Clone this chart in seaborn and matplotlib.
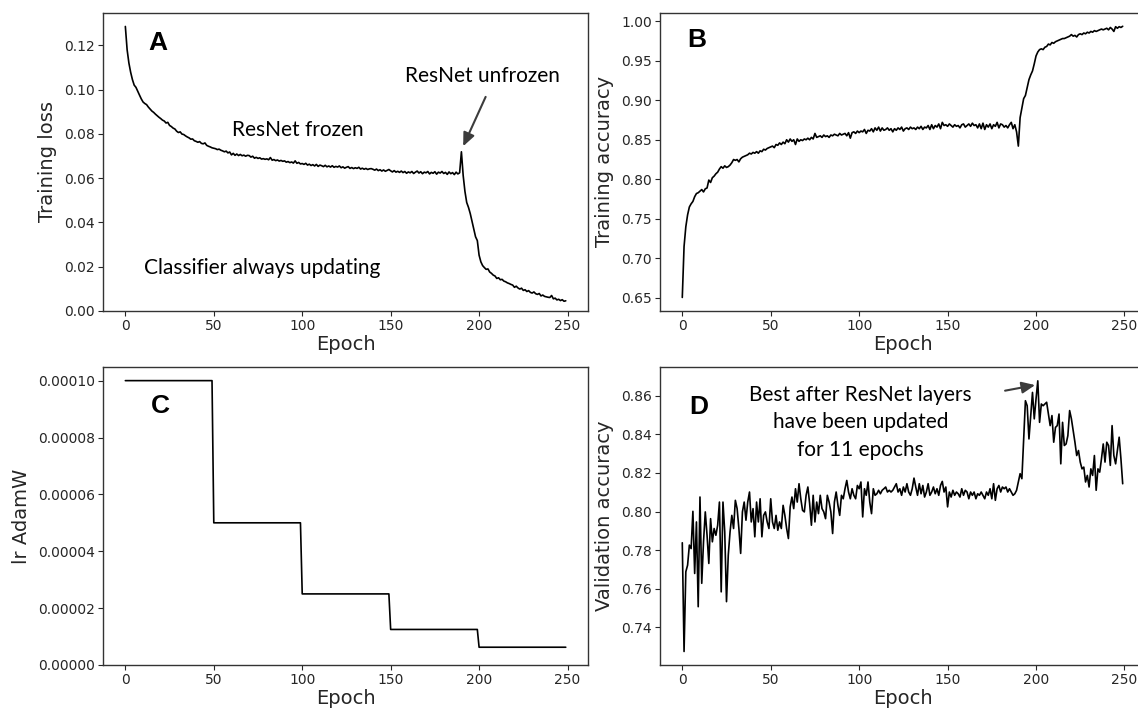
import numpy as np
import matplotlib
matplotlib.use("Agg")
import matplotlib.pyplot as plt
from matplotlib.ticker import FormatStrFormatter, MultipleLocator
import seaborn as sns

# epochs 0..249
epochs = list(range(250))

# training loss
train_loss = [
    0.1285, 0.1180, 0.1120, 0.1078, 0.1045, 0.1020, 0.1010, 0.0992, 0.0975, 0.0958,
    0.0944, 0.0937, 0.0932, 0.0921, 0.0912, 0.0903, 0.0897, 0.0889, 0.0882, 0.0875,
    0.0869, 0.0862, 0.0858, 0.0849, 0.0852, 0.0838, 0.0833, 0.0826, 0.0822, 0.0812,
    0.0806, 0.0809, 0.0799, 0.0797, 0.0791, 0.0786, 0.0782, 0.0776, 0.0777, 0.0769,
    0.0766, 0.0762, 0.0765, 0.0757, 0.0755, 0.0759, 0.0748, 0.0744, 0.0741, 0.0737,
    0.0735, 0.0733, 0.0729, 0.0731, 0.0726, 0.0723, 0.0719, 0.0722, 0.0714, 0.0718,
    0.0705, 0.0712, 0.0703, 0.0709, 0.0702, 0.0707, 0.0701, 0.0704, 0.0699, 0.0703,
    0.0702, 0.0695, 0.0699, 0.0690, 0.0694, 0.0689, 0.0692, 0.0686, 0.0688, 0.0685,
    0.0687, 0.0683, 0.0693, 0.0681, 0.0684, 0.0679, 0.0682, 0.0677, 0.0680, 0.0676,
    0.0678, 0.0672, 0.0675, 0.0670, 0.0673, 0.0668, 0.0678, 0.0667, 0.0671, 0.0664,
    0.0666, 0.0662, 0.0667, 0.0659, 0.0663, 0.0657, 0.0661, 0.0655, 0.0662, 0.0653,
    0.0659, 0.0656, 0.0652, 0.0658, 0.0651, 0.0655, 0.0650, 0.0656, 0.0649, 0.0653,
    0.0650, 0.0655, 0.0647, 0.0651, 0.0645, 0.0649, 0.0652, 0.0644, 0.0648, 0.0643,
    0.0647, 0.0644, 0.0649, 0.0641, 0.0645, 0.0640, 0.0644, 0.0639, 0.0642, 0.0643,
    0.0640, 0.0636, 0.0641, 0.0634, 0.0638, 0.0632, 0.0637, 0.0631, 0.0635, 0.0639,
    0.0633, 0.0628, 0.0634, 0.0627, 0.0631, 0.0626, 0.0632, 0.0625, 0.0630, 0.0622,
    0.0628, 0.0624, 0.0630, 0.0621, 0.0627, 0.0632, 0.0623, 0.0629, 0.0620, 0.0627,
    0.0624, 0.0630, 0.0619, 0.0626, 0.0622, 0.0629, 0.0618, 0.0627, 0.0623, 0.0630,
    0.0621, 0.0626, 0.0617, 0.0628, 0.0620, 0.0625, 0.0616, 0.0627, 0.0619, 0.0624,
    0.0719, 0.0612, 0.0540, 0.0490, 0.0468, 0.0440, 0.0405, 0.0370, 0.0335, 0.0318,
    0.0252, 0.0222, 0.0205, 0.0196, 0.0188, 0.0190, 0.0176, 0.0170, 0.0162, 0.0158,
    0.0147, 0.0150, 0.0141, 0.0143, 0.0135, 0.0132, 0.0127, 0.0124, 0.0120, 0.0117,
    0.0107, 0.0112, 0.0104, 0.0099, 0.0103, 0.0093, 0.0096, 0.0088, 0.0092, 0.0084,
    0.0081, 0.0086, 0.0078, 0.0075, 0.0079, 0.0068, 0.0072, 0.0066, 0.0064, 0.0062,
    0.0061, 0.0070, 0.0055, 0.0058, 0.0050, 0.0053, 0.0047, 0.0051, 0.0044, 0.0046,
]

# training accuracy, panel B
train_acc = [
    0.6506, 0.7150, 0.7400, 0.7550, 0.7650, 0.7690, 0.7720, 0.7780, 0.7820, 0.7830,
    0.7850, 0.7870, 0.7840, 0.7880, 0.7890, 0.7990, 0.7960, 0.8020, 0.8040, 0.8070,
    0.8090, 0.8130, 0.8160, 0.8140, 0.8170, 0.8150, 0.8160, 0.8180, 0.8210, 0.8250,
    0.8240, 0.8250, 0.8220, 0.8260, 0.8280, 0.8290, 0.8300, 0.8310, 0.8330, 0.8320,
    0.8340, 0.8330, 0.8350, 0.8330, 0.8360, 0.8350, 0.8380, 0.8370, 0.8390, 0.8400,
    0.8410, 0.8420, 0.8400, 0.8440, 0.8430, 0.8460, 0.8440, 0.8470, 0.8450, 0.8500,
    0.8470, 0.8510, 0.8480, 0.8500, 0.8440, 0.8510, 0.8480, 0.8500, 0.8490, 0.8510,
    0.8500, 0.8520, 0.8500, 0.8530, 0.8510, 0.8580, 0.8530, 0.8540, 0.8550, 0.8530,
    0.8560, 0.8540, 0.8550, 0.8530, 0.8560, 0.8550, 0.8570, 0.8560, 0.8550, 0.8580,
    0.8560, 0.8570, 0.8580, 0.8550, 0.8590, 0.8520, 0.8590, 0.8600, 0.8580, 0.8610,
    0.8590, 0.8610, 0.8600, 0.8630, 0.8580, 0.8620, 0.8610, 0.8640, 0.8600, 0.8650,
    0.8620, 0.8660, 0.8610, 0.8650, 0.8620, 0.8630, 0.8650, 0.8620, 0.8640, 0.8600,
    0.8640, 0.8620, 0.8650, 0.8630, 0.8660, 0.8610, 0.8640, 0.8650, 0.8630, 0.8660,
    0.8640, 0.8650, 0.8630, 0.8660, 0.8640, 0.8670, 0.8630, 0.8660, 0.8650, 0.8680,
    0.8630, 0.8690, 0.8640, 0.8680, 0.8660, 0.8700, 0.8640, 0.8720, 0.8680, 0.8690,
    0.8670, 0.8700, 0.8680, 0.8660, 0.8690, 0.8670, 0.8680, 0.8650, 0.8690, 0.8700,
    0.8660, 0.8680, 0.8700, 0.8670, 0.8710, 0.8680, 0.8690, 0.8650, 0.8700, 0.8640,
    0.8710, 0.8630, 0.8690, 0.8660, 0.8700, 0.8640, 0.8690, 0.8670, 0.8720, 0.8650,
    0.8700, 0.8690, 0.8660, 0.8680, 0.8650, 0.8690, 0.8720, 0.8640, 0.8690, 0.8600,
    0.8420, 0.8780, 0.8900, 0.9020, 0.9060, 0.9160, 0.9260, 0.9320, 0.9370, 0.9460,
    0.9560, 0.9610, 0.9640, 0.9650, 0.9640, 0.9670, 0.9680, 0.9710, 0.9700, 0.9730,
    0.9720, 0.9740, 0.9750, 0.9760, 0.9770, 0.9780, 0.9780, 0.9790, 0.9800, 0.9810,
    0.9830, 0.9810, 0.9820, 0.9800, 0.9830, 0.9840, 0.9830, 0.9850, 0.9840, 0.9860,
    0.9850, 0.9870, 0.9860, 0.9880, 0.9870, 0.9880, 0.9890, 0.9900, 0.9890, 0.9900,
    0.9910, 0.9890, 0.9920, 0.9900, 0.9870, 0.9930, 0.9910, 0.9930, 0.9920, 0.9935,
]

# learning rate schedule, panel C (one value per block of 50 epochs)
lr_steps = [1e-4, 5e-5, 2.5e-5, 1.25e-5, 6.25e-6]
lr = list(np.repeat(lr_steps, 50))

# validation accuracy, panel D
val_acc = [
    0.7838, 0.7275, 0.7688, 0.7722, 0.7826, 0.7808, 0.8001, 0.7679, 0.7946, 0.7507,
    0.8075, 0.7628, 0.7843, 0.7998, 0.7877, 0.7731, 0.7963, 0.7843, 0.7912, 0.7877,
    0.7929, 0.8049, 0.7584, 0.8049, 0.7894, 0.7533, 0.7774, 0.7894, 0.7980, 0.7912,
    0.8058, 0.8015, 0.7912, 0.7783, 0.7998, 0.8049, 0.7955, 0.8049, 0.8101, 0.7946,
    0.8015, 0.7869, 0.8049, 0.7946, 0.8066, 0.7869, 0.7980, 0.7998, 0.7946, 0.7912,
    0.8066, 0.7946, 0.7912, 0.7980, 0.7903, 0.7946, 0.7912, 0.8032, 0.7980, 0.7912,
    0.7860, 0.8024, 0.8075, 0.8015, 0.8118, 0.8049, 0.8144, 0.8066, 0.8006, 0.7998,
    0.8084, 0.8127, 0.8041, 0.7929, 0.8084, 0.7946, 0.8049, 0.7989, 0.8084, 0.8015,
    0.7998, 0.7963, 0.8084, 0.8049, 0.7998, 0.7886, 0.8049, 0.8101, 0.8032, 0.7980,
    0.8084, 0.8066, 0.8118, 0.8161, 0.8101, 0.8066, 0.8118, 0.8084, 0.8066, 0.8135,
    0.8118, 0.8153, 0.7972, 0.8118, 0.8084, 0.8153, 0.8049, 0.7989, 0.8118, 0.8084,
    0.8092, 0.8110, 0.8092, 0.8110, 0.8118, 0.8127, 0.8101, 0.8110, 0.8101, 0.8110,
    0.8127, 0.8144, 0.8101, 0.8118, 0.8084, 0.8127, 0.8101, 0.8144, 0.8101, 0.8084,
    0.8118, 0.8173, 0.8127, 0.8084, 0.8144, 0.8092, 0.8135, 0.8075, 0.8101, 0.8144,
    0.8084, 0.8101, 0.8127, 0.8092, 0.8118, 0.8084, 0.8135, 0.8156, 0.8101, 0.8127,
    0.8024, 0.8101, 0.8075, 0.8110, 0.8084, 0.8101, 0.8092, 0.8075, 0.8118, 0.8084,
    0.8110, 0.8101, 0.8066, 0.8101, 0.8084, 0.8101, 0.8066, 0.8092, 0.8084, 0.8101,
    0.8084, 0.8066, 0.8101, 0.8084, 0.8118, 0.8066, 0.8144, 0.8058, 0.8118, 0.8135,
    0.8101, 0.8127, 0.8118, 0.8127, 0.8101, 0.8118, 0.8101, 0.8084, 0.8092, 0.8110,
    0.8153, 0.8196, 0.8170, 0.8376, 0.8574, 0.8548, 0.8376, 0.8497, 0.8617, 0.8480,
    0.8583, 0.8677, 0.8462, 0.8557, 0.8548, 0.8557, 0.8566, 0.8505, 0.8445, 0.8497,
    0.8359, 0.8436, 0.8445, 0.8505, 0.8247, 0.8462, 0.8342, 0.8350, 0.8393, 0.8523,
    0.8480, 0.8419, 0.8359, 0.8290, 0.8316, 0.8256, 0.8221, 0.8230, 0.8153, 0.8187,
    0.8127, 0.8221, 0.8187, 0.8290, 0.8110, 0.8221, 0.8204, 0.8273, 0.8350, 0.8256,
    0.8359, 0.8342, 0.8239, 0.8445, 0.8290, 0.8247, 0.8316, 0.8385, 0.8273, 0.8144,
]

sns.set_style("ticks")
plt.rcParams['font.family'] = ['DejaVu Sans']

tick_size = 10
label_size = 14
letter_font = dict(fontsize=19, fontweight='bold', family='Liberation Sans', color='black')
note_font = dict(fontsize=15, family='Lato', color='black')
arrow_props = dict(arrowstyle='-|>,head_length=0.8,head_width=0.35',
                   color='#3c3c3c', lw=1.5, shrinkA=0, shrinkB=0)

fig = plt.figure(figsize=(11.38, 7.11), dpi=100)

ax_a = fig.add_axes([0.0908, 0.5626, 0.4257, 0.4195])
ax_b = fig.add_axes([0.5802, 0.5626, 0.4257, 0.4195])
ax_c = fig.add_axes([0.0908, 0.0647, 0.4257, 0.4187])
ax_d = fig.add_axes([0.5802, 0.0647, 0.4257, 0.4187])

panels = [
    (ax_a, train_loss, "Training loss"),
    (ax_b, train_acc, "Training accuracy"),
    (ax_c, lr, "lr AdamW"),
    (ax_d, val_acc, "Validation accuracy"),
]

for ax, values, ylabel in panels:
    sns.lineplot(x=epochs, y=values, ax=ax, color='black', linewidth=1.2)
    ax.set_xlabel("Epoch", fontsize=label_size, labelpad=1)
    ax.set_ylabel(ylabel, fontsize=label_size, labelpad=5)
    ax.tick_params(labelsize=tick_size, pad=2.5)
    for sp in ax.spines.values():
        sp.set_color('#333333')
        sp.set_linewidth(1.0)

ax_a.set_ylim(bottom=0)
ax_c.set_ylim(bottom=0)
ax_c.yaxis.set_major_locator(MultipleLocator(0.00002))
ax_c.yaxis.set_major_formatter(FormatStrFormatter('%.5f'))

# panel letters
ax_a.text(18.5, 0.1212, "A", ha='center', va='center', **letter_font)
ax_b.text(7.9, 0.976, "B", ha='center', va='center', **letter_font)
ax_c.text(19.7, 9.12e-5, "C", ha='center', va='center', **letter_font)
ax_d.text(9.1, 0.854, "D", ha='center', va='center', **letter_font)

# annotations on A
ax_a.text(97.4, 0.0816, "ResNet frozen", ha='center', va='center', **note_font)
ax_a.text(77.4, 0.0193, "Classifier always updating", ha='center', va='center', **note_font)
ax_a.text(202, 0.106, "ResNet unfrozen", ha='center', va='center', **note_font)
ax_a.annotate("", xy=(191.0, 0.0744), xytext=(203.7, 0.0967), arrowprops=arrow_props)

# annotation on D
ax_d.text(100.7, 0.8462, "Best after ResNet layers\nhave been updated\nfor 11 epochs",
          ha='center', va='center', linespacing=1.45, **note_font)
ax_d.annotate("", xy=(199.5, 0.8655), xytext=(182.5, 0.8626), arrowprops=arrow_props)

fig.savefig("out.png", dpi=100)
